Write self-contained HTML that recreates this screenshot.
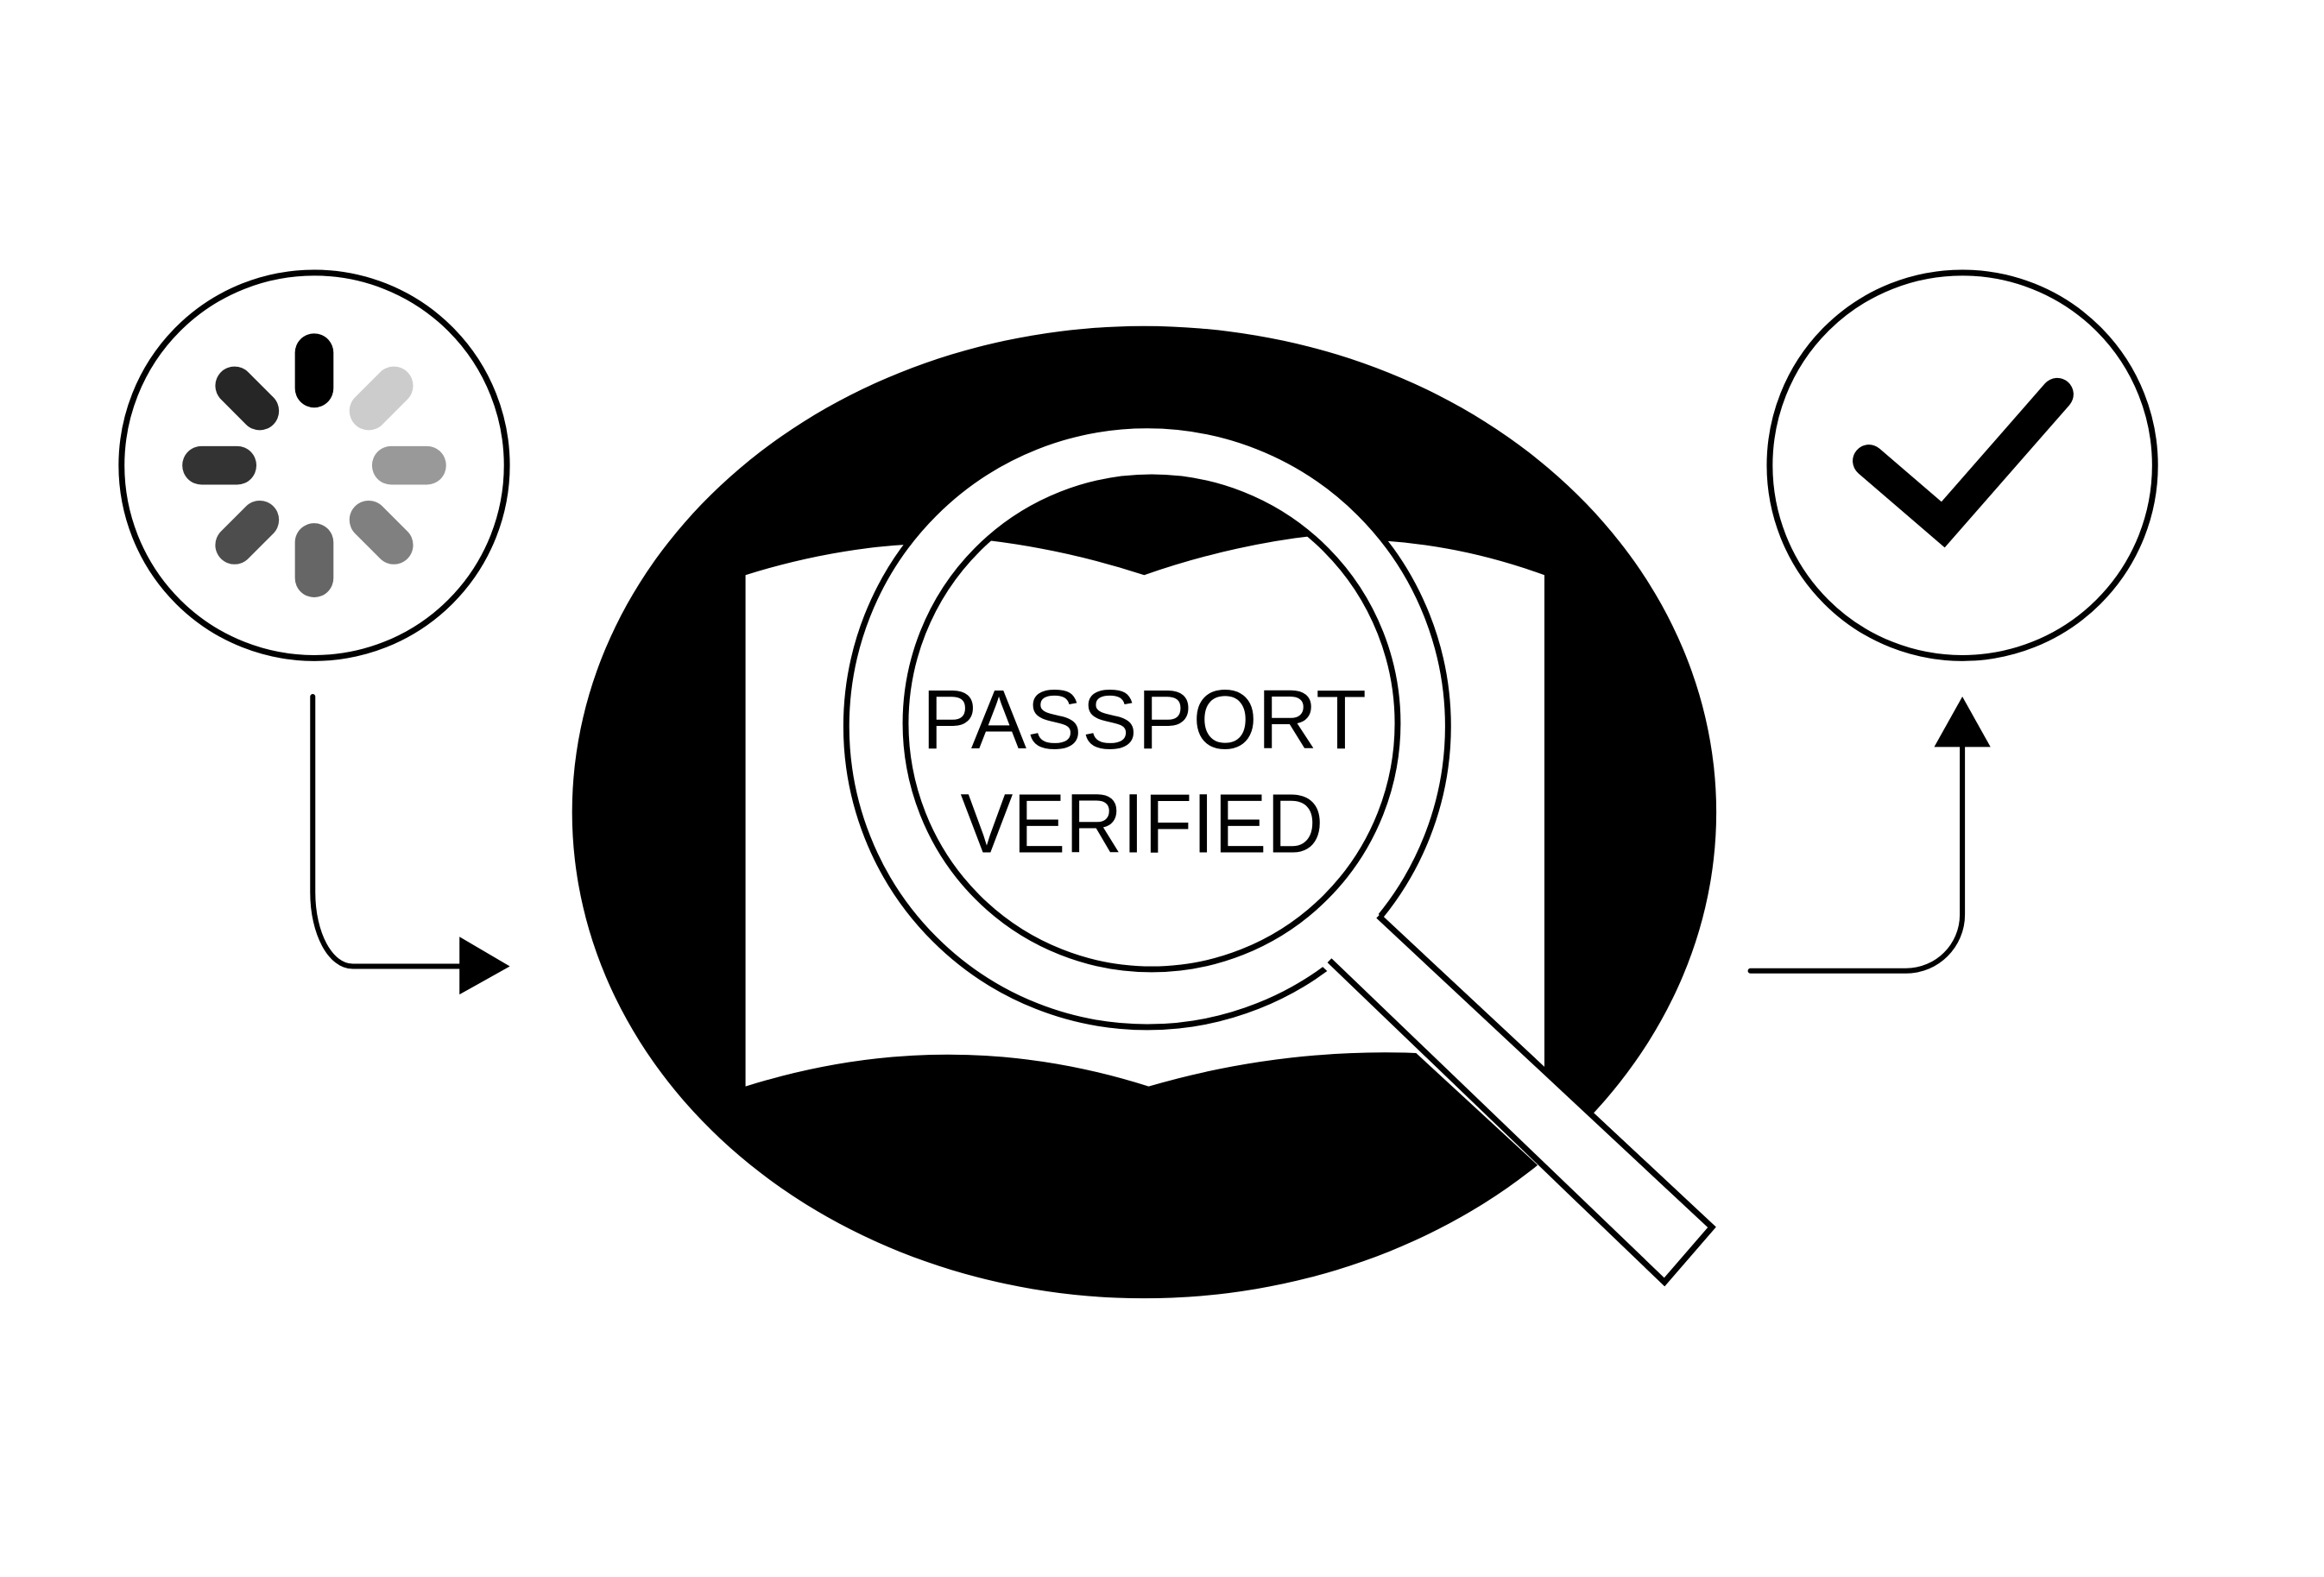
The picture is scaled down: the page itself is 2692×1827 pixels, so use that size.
<!DOCTYPE html>
<html><head><meta charset="utf-8"><style>
html,body{margin:0;padding:0;background:#fff;}
svg{display:block;}
</style></head><body>
<svg width="2692" height="1827" viewBox="0 0 1568 1064" preserveAspectRatio="none" xmlns="http://www.w3.org/2000/svg">
<rect width="1568" height="1064" fill="#fff"/>
<defs>
<clipPath id="inner"><circle cx="777" cy="488" r="166"/></clipPath>
</defs>
<!-- left circle -->
<circle cx="212" cy="314" r="130" fill="#fff" stroke="#000" stroke-width="4"/>
<g stroke-width="26" stroke-linecap="round">
<line x1="212" y1="262" x2="212" y2="238" stroke="#000"/>
<line x1="212" y1="262" x2="212" y2="238" stroke="#262626" transform="rotate(-45 212 314)"/>
<line x1="212" y1="262" x2="212" y2="238" stroke="#333" transform="rotate(-90 212 314)"/>
<line x1="212" y1="262" x2="212" y2="238" stroke="#4d4d4d" transform="rotate(-135 212 314)"/>
<line x1="212" y1="262" x2="212" y2="238" stroke="#666" transform="rotate(180 212 314)"/>
<line x1="212" y1="262" x2="212" y2="238" stroke="#808080" transform="rotate(135 212 314)"/>
<line x1="212" y1="262" x2="212" y2="238" stroke="#999" transform="rotate(90 212 314)"/>
<line x1="212" y1="262" x2="212" y2="238" stroke="#ccc" transform="rotate(45 212 314)"/>
</g>
<!-- left arrow -->
<path d="M211 470 L211 602 C211 630 223 652 238 652 L312 652" fill="none" stroke="#000" stroke-width="3.5" stroke-linecap="round"/>
<polygon points="310,632 344,652 310,671" fill="#000"/>
<!-- big ellipse -->
<ellipse cx="772" cy="548" rx="386" ry="328" fill="#000"/>
<!-- book -->
<path d="M503 388 Q640 345 772 388 Q910 340 1042 388 L1042 720 Q905 695 775 733 Q640 690 503 733 Z" fill="#fff"/>
<!-- magnifier -->
<polygon points="930,618 1155,828 1123,865 897,648" fill="#fff" stroke="#000" stroke-width="4" stroke-linejoin="miter"/>
<circle cx="774" cy="490" r="203" fill="#fff" stroke="#000" stroke-width="4"/>
<polygon points="925,612 1155,828 1123,865 892,652" fill="#fff"/>
<path d="M930 618 L1155 828 L1123 865 L897 648" fill="none" stroke="#000" stroke-width="4"/>
<g clip-path="url(#inner)">
<rect x="600" y="300" width="360" height="400" fill="#000"/>
<path d="M503 370 Q640 345 772 388 Q910 340 1042 370 L1042 720 L503 720 Z" fill="#fff"/>
</g>
<circle cx="777" cy="488" r="166" fill="none" stroke="#000" stroke-width="4"/>
<text x="622" y="505" font-family="Liberation Sans, sans-serif" font-size="57" textLength="300" lengthAdjust="spacingAndGlyphs">PASSPORT</text>
<text x="648" y="575" font-family="Liberation Sans, sans-serif" font-size="57" textLength="245" lengthAdjust="spacingAndGlyphs">VERIFIED</text>
<!-- right circle -->
<circle cx="1324" cy="314" r="130" fill="#fff" stroke="#000" stroke-width="4"/>
<polyline points="1261,311 1311,354 1388,266" fill="none" stroke="#000" stroke-width="22" stroke-linecap="round" stroke-linejoin="miter"/>
<!-- right arrow -->
<path d="M1181 655 L1286 655 C1307 655 1324 638 1324 617 L1324 500" fill="none" stroke="#000" stroke-width="3.5" stroke-linecap="round"/>
<polygon points="1305,504 1324,470 1343,504" fill="#000"/>
</svg>
</body></html>
